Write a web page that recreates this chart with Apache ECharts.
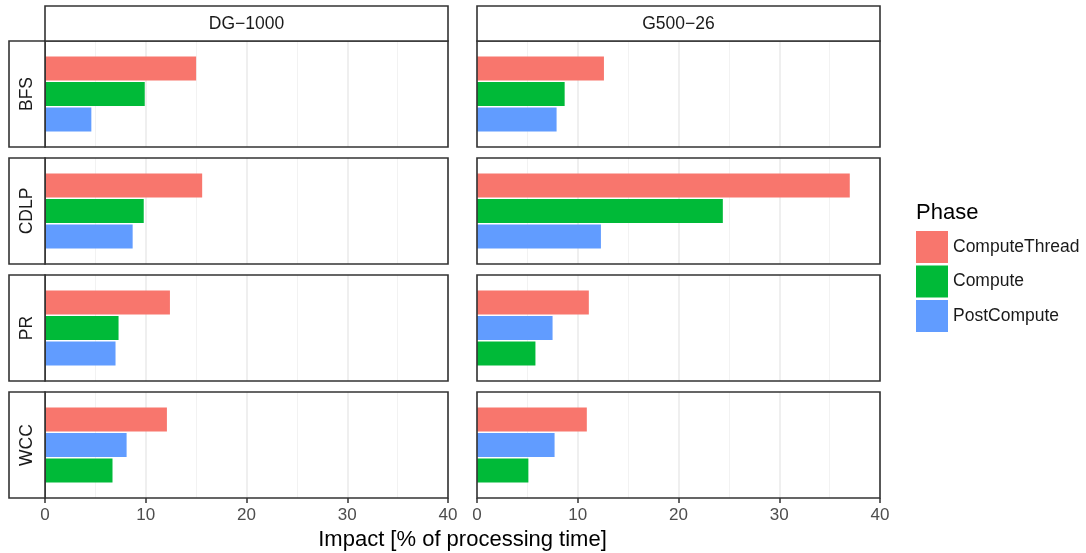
<!DOCTYPE html>
<html>
<head>
<meta charset="utf-8">
<style>
  html, body { margin: 0; padding: 0; background: #fff; }
  #chart { width: 1086px; height: 553px; }
</style>
<script src="https://cdn.jsdelivr.net/npm/echarts@6/dist/echarts.min.js"></script>
</head>
<body>
<div id="chart"></div>
<script>
// Facet columns (graph datasets) and rows (algorithms)
const datasets = ['DG\u22121000', 'G500\u221226'];
const algorithms = ['BFS', 'CDLP', 'PR', 'WCC'];
const phases = ['ComputeThread', 'Compute', 'PostCompute'];
const phaseColors = ['#F8766D', '#00BA38', '#619CFF'];

// Impact [% of processing time], one row per algorithm: [DG-1000, G500-26]
const computeThread = [[15.0, 12.6], [15.6, 37.0], [12.4, 11.1], [12.1, 10.9]];
const compute       = [[9.9, 8.7],   [9.8, 24.4],  [7.3, 5.8],   [6.7, 5.1]];
const postCompute   = [[4.6, 7.9],   [8.7, 12.3],  [7.0, 7.5],   [8.1, 7.7]];

const xTicks = [0, 10, 20, 30, 40];
const xTitle = 'Impact [% of processing time]';
const legendTitle = 'Phase';

const phaseValues = [computeThread, compute, postCompute];

// Panel layout
const FONT = '"Liberation Sans", Arial, Helvetica, sans-serif';
const colLeft = [45, 477];
const colWidth = 403;
const rowTop0 = 41, rowStep = 117, panelH = 106;
const band = 25.5, barW = 24;
const stripTop = 6, stripLeft = 9;
const frameStyle = { stroke: '#333', lineWidth: 1.6 };

const grids = [], xAxes = [], yAxes = [], series = [], graphics = [];

algorithms.forEach((alg, r) => {
  const top = rowTop0 + r * rowStep;
  const bottomRow = r === algorithms.length - 1;
  datasets.forEach((ds, c) => {
    const left = colLeft[c];
    // background grid: vertical gridlines + bottom ticks
    const bgIdx = grids.length;
    grids.push({
      left: left, top: top, width: colWidth, height: panelH,
      show: true, backgroundColor: '#fff', borderWidth: 0
    });
    xAxes.push({
      gridIndex: bgIdx, type: 'value', min: xTicks[0], max: xTicks[xTicks.length - 1],
      interval: xTicks[1] - xTicks[0],
      axisLine: { show: false },
      axisTick: { show: bottomRow, length: 5, lineStyle: { color: '#333', width: 1.5 } },
      axisLabel: { show: bottomRow, color: '#4d4d4d', fontSize: 17, fontFamily: FONT, margin: 9 },
      splitLine: { show: true, lineStyle: { color: '#ebebeb', width: 1.6 } },
      minorTick: { show: false, splitNumber: 2 },
      minorSplitLine: { show: true, lineStyle: { color: '#f2f2f2', width: 1 } },
      z: 1
    });
    yAxes.push({ gridIndex: bgIdx, type: 'value', show: false, splitLine: { show: false } });

    // data grid: three category slots, centred in the panel
    const order = phases.map((p, k) => k)
      .sort((a, b) => phaseValues[b][r][c] - phaseValues[a][r][c]);
    const dataIdx = grids.length;
    grids.push({
      left: left, top: top + (panelH - 3 * band) / 2, width: colWidth, height: 3 * band,
      show: false
    });
    xAxes.push({
      gridIndex: dataIdx, type: 'value', min: xTicks[0], max: xTicks[xTicks.length - 1],
      show: false
    });
    yAxes.push({
      gridIndex: dataIdx, type: 'category', inverse: true,
      data: order.map(k => phases[k]), show: false
    });
    phases.forEach((p, k) => {
      series.push({
        type: 'bar', name: p, xAxisIndex: dataIdx, yAxisIndex: dataIdx,
        barWidth: barW, barGap: '-100%',
        itemStyle: { color: phaseColors[k] },
        data: order.map(idx => idx === k ? phaseValues[k][r][c] : '-'),
        animation: false, z: 3
      });
    });

    // panel frame drawn above the gridlines
    graphics.push({
      type: 'rect', z: 100, silent: true,
      shape: { x: left, y: top, width: colWidth, height: panelH },
      style: Object.assign({ fill: null }, frameStyle)
    });
  });

  // row strip on the left
  graphics.push({
    type: 'rect', z: 100, silent: true,
    shape: { x: stripLeft, y: top, width: colLeft[0] - stripLeft, height: panelH },
    style: Object.assign({ fill: '#fff' }, frameStyle)
  });
  graphics.push({
    type: 'text', z: 101, silent: true,
    x: (colLeft[0] + stripLeft) / 2, y: top + panelH / 2, rotation: Math.PI / 2,
    style: { text: alg, fill: '#1a1a1a', font: '17.5px ' + FONT, align: 'center', verticalAlign: 'middle' }
  });
});

// column strips on top
datasets.forEach((ds, c) => {
  graphics.push({
    type: 'rect', z: 100, silent: true,
    shape: { x: colLeft[c], y: stripTop, width: colWidth, height: rowTop0 - stripTop },
    style: Object.assign({ fill: '#fff' }, frameStyle)
  });
  graphics.push({
    type: 'text', z: 101, silent: true,
    x: colLeft[c] + colWidth / 2, y: (stripTop + rowTop0) / 2 + 1,
    style: { text: ds, fill: '#1a1a1a', font: '17.5px ' + FONT, align: 'center', verticalAlign: 'middle' }
  });
});

// x-axis title and legend title
graphics.push({
  type: 'text', x: (colLeft[0] + colLeft[1] + colWidth) / 2, y: 540, silent: true,
  style: { text: xTitle, fill: '#000', font: '22px ' + FONT, align: 'center', verticalAlign: 'middle' }
});
graphics.push({
  type: 'text', x: 916, y: 213, silent: true,
  style: { text: legendTitle, fill: '#000', font: '22px ' + FONT, align: 'left', verticalAlign: 'middle' }
});

const chart = echarts.init(document.getElementById('chart'), null, { renderer: 'canvas' });
chart.setOption({
  animation: false,
  backgroundColor: '#fff',
  grid: grids,
  xAxis: xAxes,
  yAxis: yAxes,
  series: series,
  legend: {
    data: phases.map((p, k) => ({ name: p, icon: 'rect', itemStyle: { color: phaseColors[k] } })),
    orient: 'vertical', left: 916, top: 231, padding: 0,
    itemWidth: 32, itemHeight: 32, itemGap: 2.5,
    textStyle: { fontSize: 17.5, fontFamily: FONT, color: '#1a1a1a' },
    selectedMode: false
  },
  graphic: graphics
});
</script>
</body>
</html>
